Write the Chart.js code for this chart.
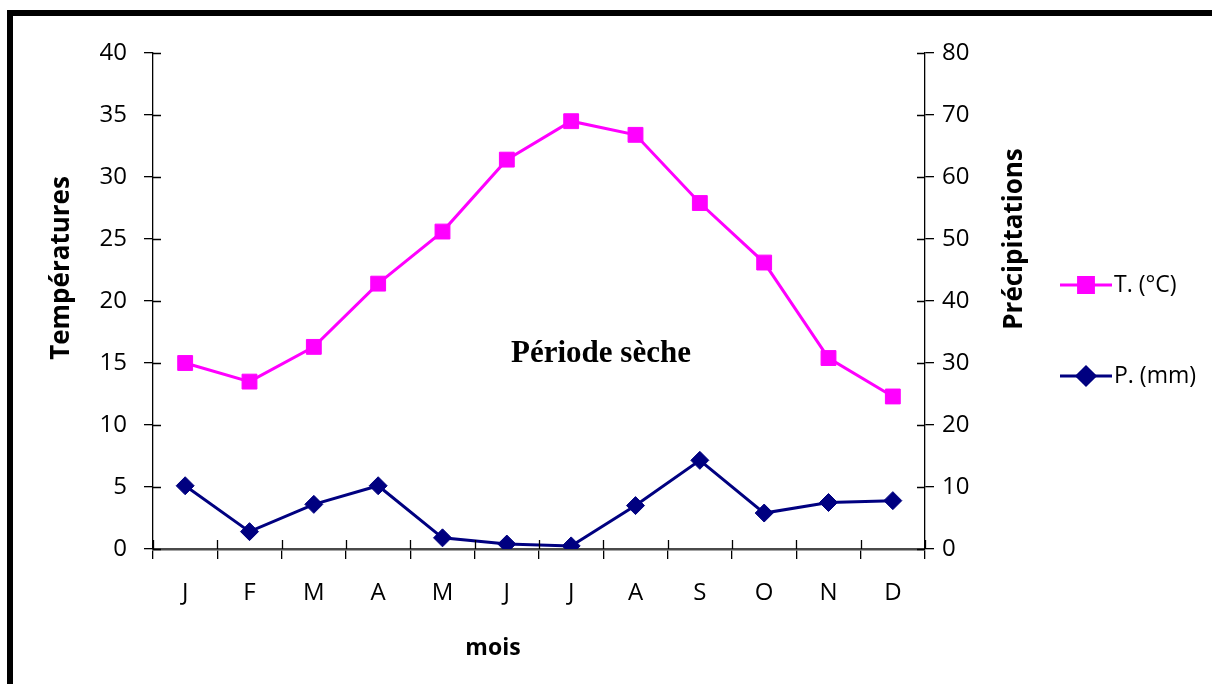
<!DOCTYPE html>
<html>
<head>
<meta charset="utf-8">
<script src="https://cdn.jsdelivr.net/npm/chart.js@4.4.1/dist/chart.umd.min.js"></script>
<style>
  html, body { margin: 0; padding: 0; background: #fff; overflow: hidden; }
  #frame {
    position: absolute; left: 7px; top: 10px; right: -10px; bottom: -10px;
    border-top: 6px solid #000; border-left: 6px solid #000;
  }
  #wrap { position: absolute; left: 0; top: 0; width: 1212px; height: 684px; }
</style>
</head>
<body>
<div id="frame"></div>
<div id="wrap"><canvas id="climat" width="1212" height="684"></canvas></div>
<script>
// mois de l'année
const mois = ['J', 'F', 'M', 'A', 'M', 'J', 'J', 'A', 'S', 'O', 'N', 'D'];
// températures moyennes (°C)
const temperatures = [15.0, 13.5, 16.3, 21.4, 25.6, 31.4, 34.5, 33.4, 27.9, 23.1, 15.4, 12.3];
// précipitations moyennes (mm)
const precipitations = [10.2, 2.8, 7.2, 10.2, 1.8, 0.8, 0.5, 7.0, 14.3, 5.8, 7.5, 7.8];

const tempMax = 40, tempStep = 5;
const precMax = 80, precStep = 10;

const labelFont = { family: 'Open Sans', size: 24 };
const titleFont = 'bold 26px "Open Sans"';

const TEMP_COLOR = '#ff00ff';
const PREC_COLOR = '#000080';

// tirets qui traversent les axes + titres + légende
const decorPlugin = {
  id: 'decor',
  afterDraw(chart) {
    const ctx = chart.ctx;
    const x = chart.scales.x, y = chart.scales.y, y1 = chart.scales.y1;
    ctx.save();
    ctx.strokeStyle = '#000';
    ctx.lineWidth = 1.3;
    ctx.beginPath();
    y.ticks.forEach(t => {
      const py = Math.round(y.getPixelForValue(t.value)) + 0.5;
      ctx.moveTo(y.right, py);
      ctx.lineTo(y.right + 8, py);
    });
    y1.ticks.forEach(t => {
      const py = Math.round(y1.getPixelForValue(t.value)) + 0.5;
      ctx.moveTo(y1.left - 8, py);
      ctx.lineTo(y1.left, py);
    });
    for (let i = 0; i <= mois.length; i++) {
      const px = Math.round(x.getPixelForDecimal(i / mois.length)) + 0.5;
      ctx.moveTo(px, x.top - 9);
      ctx.lineTo(px, x.top);
    }
    ctx.stroke();

    // titres des axes
    ctx.fillStyle = '#000';
    ctx.font = titleFont;
    ctx.textAlign = 'center';
    ctx.textBaseline = 'middle';
    ctx.save();
    ctx.translate(62, 268);
    ctx.rotate(-Math.PI / 2);
    ctx.fillText('Températures', 0, 0);
    ctx.restore();
    ctx.save();
    ctx.translate(1015, 239);
    ctx.rotate(-Math.PI / 2);
    ctx.fillText('Précipitations', 0, 0);
    ctx.restore();
    ctx.font = 'bold 23px "Open Sans"';
    ctx.fillText('mois', 493, 648);

    ctx.font = 'bold 31px "Liberation Serif"';
    ctx.fillText('Période sèche', 601, 354);

    // légende
    const items = [
      { ds: chart.data.datasets[0], y: 285 },
      { ds: chart.data.datasets[1], y: 376 }
    ];
    items.forEach(it => {
      ctx.strokeStyle = it.ds.borderColor;
      ctx.lineWidth = 3;
      ctx.beginPath();
      ctx.moveTo(1060, it.y);
      ctx.lineTo(1112, it.y);
      ctx.stroke();
      ctx.fillStyle = it.ds.pointBackgroundColor;
      ctx.strokeStyle = it.ds.pointBorderColor;
      Chart.helpers.drawPoint(ctx, {
        pointStyle: it.ds.pointStyle,
        radius: it.ds.pointRadius,
        rotation: 0,
        borderWidth: 1
      }, 1086, it.y);
      ctx.fillStyle = '#000';
      ctx.font = '23px "Open Sans"';
      ctx.textAlign = 'left';
      ctx.fillText(it.ds.label, 1114, it.y);
    });
    ctx.restore();
  }
};

new Chart(document.getElementById('climat'), {
  type: 'line',
  data: {
    labels: mois,
    datasets: [
      {
        label: 'T. (°C)',
        data: temperatures,
        yAxisID: 'y',
        borderColor: TEMP_COLOR,
        borderWidth: 3,
        pointStyle: 'rect',
        pointRadius: 10.5,
        pointBackgroundColor: TEMP_COLOR,
        pointBorderColor: TEMP_COLOR,
        pointBorderWidth: 1,
        tension: 0
      },
      {
        label: 'P. (mm)',
        data: precipitations,
        yAxisID: 'y1',
        borderColor: PREC_COLOR,
        borderWidth: 3,
        pointStyle: 'rectRot',
        pointRadius: 9,
        pointBackgroundColor: PREC_COLOR,
        pointBorderColor: PREC_COLOR,
        pointBorderWidth: 1,
        tension: 0
      }
    ]
  },
  options: {
    responsive: false,
    animation: false,
    layout: { padding: { top: 53, left: 0, right: 0, bottom: 0 } },
    plugins: {
      legend: { display: false },
      tooltip: { enabled: false }
    },
    scales: {
      x: {
        offset: true,
        grid: {
          offset: true,
          drawOnChartArea: false,
          drawTicks: true,
          tickLength: 10,
          color: '#000',
          lineWidth: 1.3
        },
        border: { color: '#4a4a4a', width: 2.5 },
        ticks: { color: '#000', font: labelFont, padding: 20 },
        afterFit(scale) { scale.height = 135; }
      },
      y: {
        position: 'left',
        min: 0,
        max: tempMax,
        grid: {
          drawOnChartArea: false,
          tickLength: 9,
          color: '#000',
          lineWidth: 1.3
        },
        border: { color: '#000', width: 1.3 },
        ticks: { stepSize: tempStep, color: '#000', font: labelFont, padding: 17 },
        afterFit(scale) { scale.width = 153; }
      },
      y1: {
        position: 'right',
        min: 0,
        max: precMax,
        grid: {
          drawOnChartArea: false,
          tickLength: 9,
          color: '#000',
          lineWidth: 1.3
        },
        border: { color: '#000', width: 1.3 },
        ticks: { stepSize: precStep, color: '#000', font: labelFont, padding: 8 },
        afterFit(scale) { scale.width = 287; }
      }
    }
  },
  plugins: [decorPlugin]
});
</script>
</body>
</html>
